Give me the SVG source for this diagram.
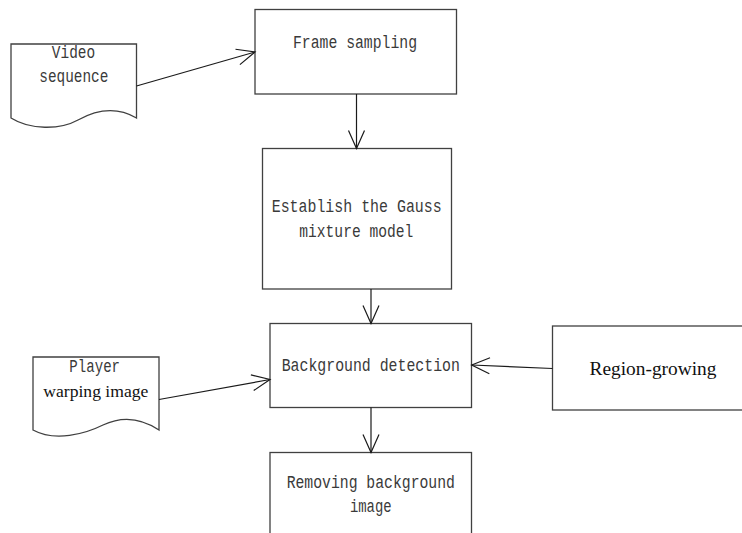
<svg xmlns="http://www.w3.org/2000/svg" width="742" height="533" viewBox="0 0 742 533">
<defs>
<style>
.box{fill:#fff;stroke:#404040;stroke-width:1.3}
.edge{fill:none;stroke:#1a1a1a;stroke-width:1.2}
.m{font-family:"Liberation Mono","DejaVu Sans Mono",monospace;font-size:18px;fill:#3a3a3a;text-anchor:middle}
.s{font-family:"Liberation Serif","Times New Roman",serif;fill:#111;text-anchor:middle}
</style>
<marker id="arr" markerUnits="userSpaceOnUse" markerWidth="24" markerHeight="24" viewBox="-20 -12 24 24" refX="0" refY="0" orient="auto">
<path d="M-18,-8 L0,0 L-18,8" fill="none" stroke="#1a1a1a" stroke-width="1.2"/>
</marker>
</defs>
<rect width="742" height="533" fill="#fff"/>
<g id="video">
<path class="box" d="M11,44 H136.5 V118 C116,106 96,110 78,120 C60,130 30,130 11,118 Z"/>
<text class="m" x="73.5" y="58.3" textLength="43.3" lengthAdjust="spacingAndGlyphs">Video</text>
<text class="m" x="73.8" y="81.7" textLength="69" lengthAdjust="spacingAndGlyphs">sequence</text>
</g>
<g id="frame">
<rect class="box" x="255" y="9.5" width="201.5" height="84.5"/>
<text class="m" x="355" y="48" textLength="124" lengthAdjust="spacingAndGlyphs">Frame sampling</text>
</g>
<g id="gauss">
<rect class="box" x="262.5" y="148.5" width="189" height="140.5"/>
<text class="m" x="356.7" y="211.7" textLength="170" lengthAdjust="spacingAndGlyphs">Establish the Gauss</text>
<text class="m" x="356.3" y="236.7" textLength="114" lengthAdjust="spacingAndGlyphs">mixture model</text>
</g>
<g id="background">
<rect class="box" x="270" y="323.5" width="201.5" height="84"/>
<text class="m" x="370.8" y="370.7" textLength="178.3" lengthAdjust="spacingAndGlyphs">Background detection</text>
</g>
<g id="region">
<rect class="box" x="552.5" y="326" width="200" height="84"/>
<text class="s" x="653" y="375" font-size="19.4" textLength="127" lengthAdjust="spacingAndGlyphs">Region-growing</text>
</g>
<g id="player">
<path class="box" d="M33,357 H159 V430 C141,418 122,416 103,425 C85,434 55,442 33,430 Z"/>
<text class="m" x="94.7" y="371.7" textLength="50.7" lengthAdjust="spacingAndGlyphs">Player</text>
<text class="s" x="95.8" y="397" font-size="17.6" textLength="105" lengthAdjust="spacingAndGlyphs">warping image</text>
</g>
<g id="removing">
<rect class="box" x="270" y="452.5" width="201.5" height="100"/>
<text class="m" x="370.8" y="488.3" textLength="168.3" lengthAdjust="spacingAndGlyphs">Removing background</text>
<text class="m" x="370.8" y="511.7" textLength="41.7" lengthAdjust="spacingAndGlyphs">image</text>
</g>
<g id="connectors">
<line class="edge" x1="136.5" y1="86" x2="255" y2="52" marker-end="url(#arr)"/>
<line class="edge" x1="356.5" y1="94" x2="356.5" y2="148.5" marker-end="url(#arr)"/>
<line class="edge" x1="371" y1="289" x2="371" y2="323.5" marker-end="url(#arr)"/>
<line class="edge" x1="552.5" y1="368.5" x2="471.7" y2="365" marker-end="url(#arr)"/>
<line class="edge" x1="159" y1="399.5" x2="270" y2="379.5" marker-end="url(#arr)"/>
<line class="edge" x1="371" y1="407.5" x2="371" y2="452.5" marker-end="url(#arr)"/>
</g>
</svg>
